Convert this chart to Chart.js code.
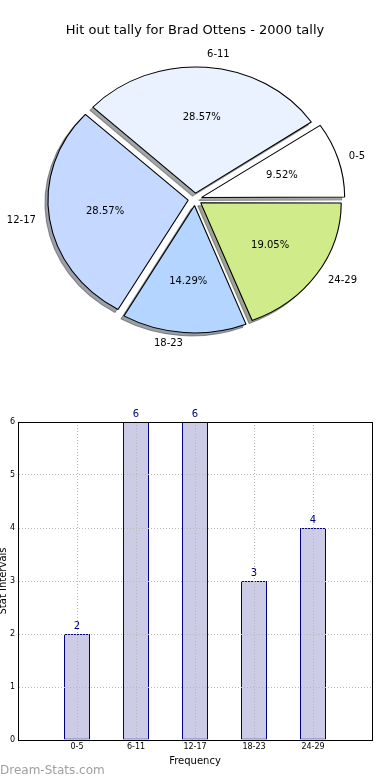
<!DOCTYPE html>
<html>
<head>
<meta charset="utf-8">
<script src="https://cdn.jsdelivr.net/npm/chart.js@4"></script>
<style>
  html, body { margin: 0; padding: 0; background: #fff; }
  body { width: 390px; height: 780px; position: relative; overflow: hidden; }
  canvas { position: absolute; }
  #pieShadow { left: -3px; top: 3px; }
  #pie { left: 0; top: 0; }
  #bar { left: -4px; top: 396px; }
  #mark { position: absolute; left: 0; top: 762px; font: 12px "DejaVu Sans", sans-serif; color: #a0a0a0; line-height: 16px; }
</style>
</head>
<body>
<canvas id="pieShadow" width="390" height="360"></canvas>
<canvas id="pie" width="390" height="360"></canvas>
<canvas id="bar" width="394" height="384"></canvas>
<div id="mark">Dream-Stats.com</div>
<script>
const chartTitle = 'Hit out tally for Brad Ottens - 2000 tally';
const categories = ['0-5', '6-11', '12-17', '18-23', '24-29'];
const tally = [2, 6, 6, 3, 4];
const sliceColors = ['#ffffff', '#eaf2ff', '#c5d8ff', '#b3d5ff', '#d0eb8a'];
const yTickMax = 6;
const xAxisTitle = 'Frequency';
const yAxisTitle = 'Stat Intervals';

Chart.defaults.font.family = '"DejaVu Sans", sans-serif';
Chart.defaults.devicePixelRatio = 1;

const SX = 140 / 126; // horizontal stretch of the (elliptical) pie
const total = tally.reduce((a, b) => a + b, 0);

// matplotlib draws counter-clockwise from 3 o'clock; Chart.js draws clockwise
const pieCats = categories.slice().reverse();
const pieVals = tally.slice().reverse();
const pieCols = sliceColors.slice().reverse();
const shadowCols = pieCols.map(c => {
  const r = parseInt(c.slice(1, 3), 16), g = parseInt(c.slice(3, 5), 16), b = parseInt(c.slice(5, 7), 16);
  return `rgba(${Math.round(r * 0.3)},${Math.round(g * 0.3)},${Math.round(b * 0.3)},0.5)`;
});

const ellipse = {
  id: 'ellipse',
  beforeDatasetsDraw(chart) {
    const arc = chart.getDatasetMeta(0).data[0];
    const ctx = chart.ctx;
    ctx.save();
    ctx.translate(arc.x, 0);
    ctx.scale(SX, 1);
    ctx.translate(-arc.x, 0);
  },
  afterDatasetsDraw(chart) { chart.ctx.restore(); }
};

const pieLabels = {
  id: 'pieLabels',
  afterDraw(chart) {
    const ctx = chart.ctx;
    const meta = chart.getDatasetMeta(0);
    ctx.save();
    ctx.font = '10px "DejaVu Sans", sans-serif';
    ctx.fillStyle = '#000';
    meta.data.forEach((arc, i) => {
      const mid = (arc.startAngle + arc.endAngle) / 2;
      const off = (arc.options.offset || 0) / 4;
      const r = arc.outerRadius;
      const c = Math.cos(mid), s = Math.sin(mid);
      const cx = arc.x + c * off * SX;
      const cy = arc.y + s * off;
      ctx.textAlign = 'center';
      ctx.textBaseline = 'middle';
      ctx.fillText((pieVals[i] / total * 100).toFixed(2) + '%', cx + 0.6 * r * c * SX, cy + 0.6 * r * s);
      ctx.textAlign = c > 0 ? 'left' : 'right';
      ctx.fillText(pieCats[i], cx + 1.1 * r * c * SX, cy + 1.1 * r * s);
    });
    ctx.restore();
  }
};

function pieConfig(fill, stroke, titleColor, plugins) {
  return {
    type: 'pie',
    data: {
      labels: pieCats,
      datasets: [{
        data: pieVals,
        backgroundColor: fill,
        borderColor: stroke,
        borderWidth: 1,
        offset: 25
      }]
    },
    options: {
      responsive: false,
      animation: false,
      rotation: 90,
      radius: 126,
      layout: { padding: 0 },
      plugins: {
        legend: { display: false },
        tooltip: { enabled: false },
        title: {
          display: true,
          text: chartTitle,
          color: titleColor,
          font: { size: 13, weight: 'normal' },
          padding: { top: 23, bottom: 0 }
        }
      }
    },
    plugins: plugins
  };
}

new Chart(document.getElementById('pieShadow'), pieConfig(shadowCols, shadowCols, 'rgba(0,0,0,0)', [ellipse]));
new Chart(document.getElementById('pie'), pieConfig(pieCols, '#000', '#000', [ellipse, pieLabels]));

// ---- bar chart ----
const barLabels = [''].concat(categories, ['']);
const barData = [null].concat(tally, [null]);

const valueLabels = {
  id: 'valueLabels',
  afterDraw(chart) {
    const ctx = chart.ctx;
    const meta = chart.getDatasetMeta(0);
    ctx.save();
    ctx.font = '10px "DejaVu Sans", sans-serif';
    ctx.fillStyle = '#000080';
    ctx.textAlign = 'center';
    ctx.textBaseline = 'bottom';
    meta.data.forEach((bar, i) => {
      if (barData[i] == null) return;
      ctx.fillText(String(barData[i]), bar.x, bar.y - 3);
    });
    ctx.restore();
  }
};

const nLab = barLabels.length;
const isXEdge = c => c.index === 0 || c.index === nLab - 1;
const isYEdge = c => c.tick && (c.tick.value === yTickMax || c.tick.value === 0);
new Chart(document.getElementById('bar'), {
  type: 'bar',
  data: {
    labels: barLabels,
    datasets: [{
      data: barData,
      backgroundColor: '#ccccE6',
      borderColor: '#000080',
      borderWidth: 1,
      borderSkipped: false,
      inflateAmount: 0,
      barThickness: 26
    }]
  },
  options: {
    responsive: false,
    animation: false,
    layout: { padding: { left: 0, right: 18, top: 26, bottom: 0 } },
    plugins: { legend: { display: false }, tooltip: { enabled: false }, title: { display: false } },
    scales: {
      x: {
        offset: false,
        afterFit(s) { s.height = 40; },
        grid: {
          offset: false,
          z: 1,
          drawTicks: false,
          lineWidth: 1,
          color: c => isXEdge(c) ? '#000' : '#b8b8b8'
        },
        border: {
          z: 1,
          color: '#000', width: 1,
          dash: c => isXEdge(c) ? [] : [1, 2]
        },
        ticks: { color: '#000', font: { size: 8 }, padding: 2, maxRotation: 0, autoSkip: false },
        title: { display: true, text: xAxisTitle, color: '#000', font: { size: 10 }, padding: { top: 0, bottom: 13 } }
      },
      y: {
        min: 0,
        max: yTickMax,
        afterFit(s) { s.width = 22; },
        grid: {
          z: 1,
          drawTicks: false,
          lineWidth: 1,
          color: c => isYEdge(c) ? '#000' : '#b8b8b8'
        },
        border: {
          z: 1,
          color: '#000', width: 1,
          dash: c => isYEdge(c) ? [] : [1, 2]
        },
        ticks: { stepSize: 1, color: '#000', font: { size: 8 }, padding: 3 },
        title: { display: true, text: yAxisTitle, color: '#000', font: { size: 10 }, padding: { top: 1, bottom: 0 } }
      }
    }
  },
  plugins: [valueLabels]
});
</script>
</body>
</html>
